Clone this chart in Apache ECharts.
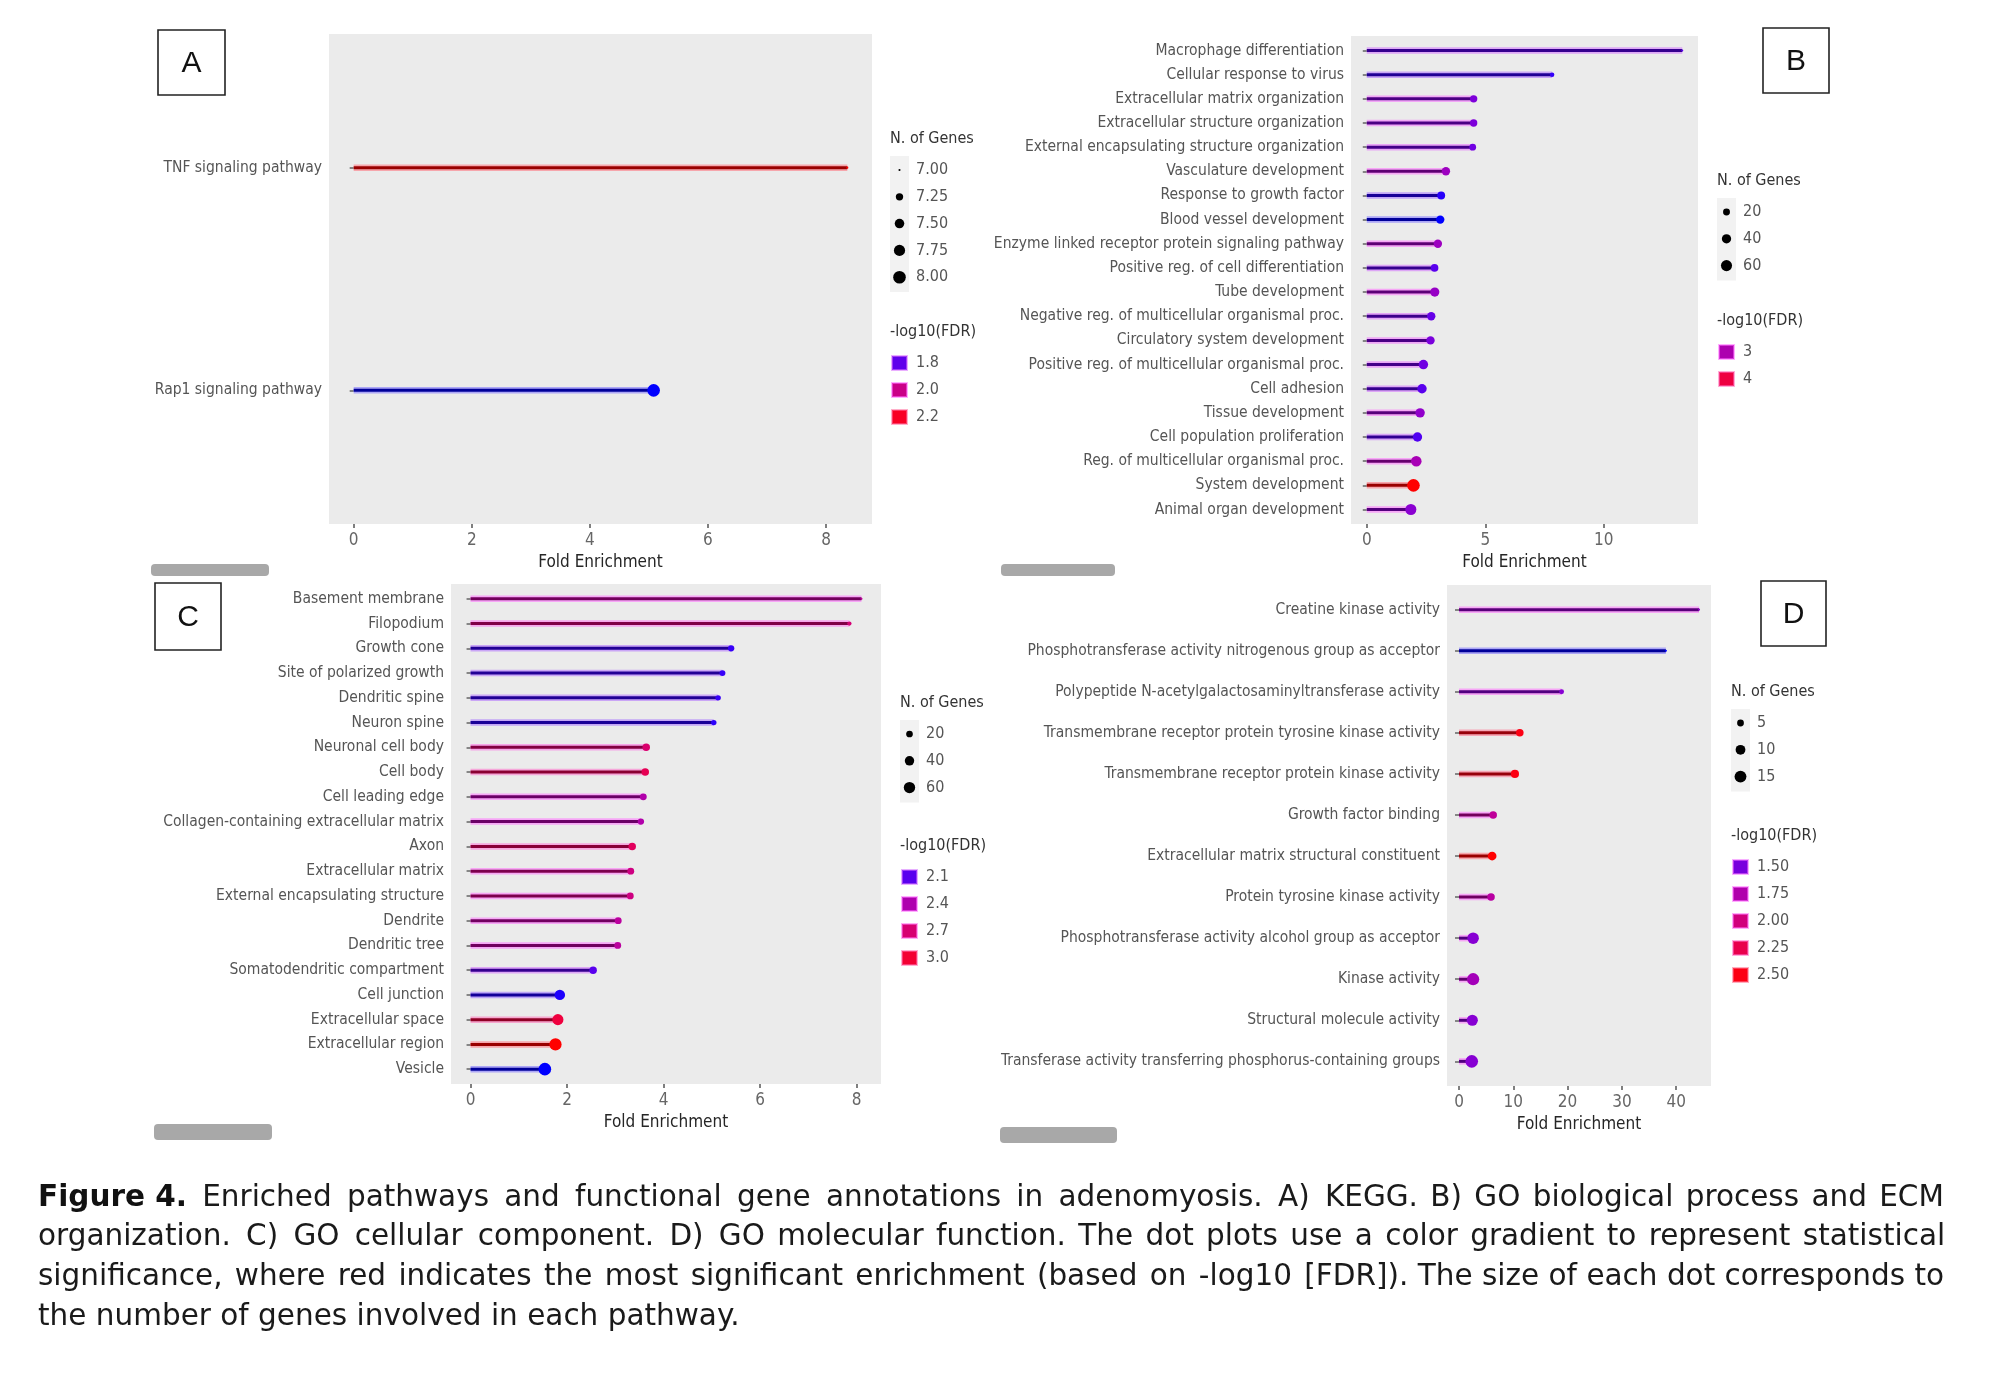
<!DOCTYPE html>
<html><head><meta charset="utf-8">
<script src="https://cdn.jsdelivr.net/npm/echarts@6/dist/echarts.min.js"></script>
<style>html,body{margin:0;padding:0;background:#fff}#c{width:2000px;height:1383px}</style>
</head><body><div id="c"></div>
<script>
// ---------- DATA ----------
// Panel A (KEGG)
const catsA = ['TNF signaling pathway', 'Rap1 signaling pathway'];
const foldA = [8.36, 5.08];
const fdrA = [2.24, 1.76];
const genesA = [7, 8];
const xTicksA = [0, 2, 4, 6, 8];
const sizeLegendA = ['7.00', '7.25', '7.50', '7.75', '8.00'];
const colorLegendA = ['1.8', '2.0', '2.2'];

// Panel B (GO biological process)
const catsB = ['Macrophage differentiation', 'Cellular response to virus', 'Extracellular matrix organization',
  'Extracellular structure organization', 'External encapsulating structure organization', 'Vasculature development',
  'Response to growth factor', 'Blood vessel development', 'Enzyme linked receptor protein signaling pathway',
  'Positive reg. of cell differentiation', 'Tube development', 'Negative reg. of multicellular organismal proc.',
  'Circulatory system development', 'Positive reg. of multicellular organismal proc.', 'Cell adhesion',
  'Tissue development', 'Cell population proliferation', 'Reg. of multicellular organismal proc.',
  'System development', 'Animal organ development'];
const foldB = [13.31, 7.82, 4.51, 4.51, 4.47, 3.34, 3.14, 3.10, 3.00, 2.86, 2.87, 2.72, 2.69, 2.39, 2.33, 2.25, 2.14, 2.09, 1.97, 1.86];
const fdrB = [2.45, 2.35, 2.62, 2.62, 2.55, 2.85, 2.33, 2.3, 2.85, 2.45, 2.8, 2.5, 2.6, 2.55, 2.45, 2.75, 2.42, 2.95, 4.4, 2.7];
const genesB = [4, 8, 23, 23, 19, 31, 27, 31, 31, 25, 38, 31, 31, 41, 41, 41, 40, 53, 80, 59];
const xTicksB = [0, 5, 10];
const sizeLegendB = ['20', '40', '60'];
const colorLegendB = ['3', '4'];

// Panel C (GO cellular component)
const catsC = ['Basement membrane', 'Filopodium', 'Growth cone', 'Site of polarized growth', 'Dendritic spine',
  'Neuron spine', 'Neuronal cell body', 'Cell body', 'Cell leading edge', 'Collagen-containing extracellular matrix',
  'Axon', 'Extracellular matrix', 'External encapsulating structure', 'Dendrite', 'Dendritic tree',
  'Somatodendritic compartment', 'Cell junction', 'Extracellular space', 'Extracellular region', 'Vesicle'];
const foldC = [8.10, 7.85, 5.40, 5.22, 5.13, 5.04, 3.64, 3.62, 3.58, 3.53, 3.35, 3.32, 3.31, 3.06, 3.05, 2.54, 1.85, 1.81, 1.76, 1.54];
const fdrC = [2.5, 2.68, 2.05, 2.05, 2.05, 2.04, 2.72, 2.85, 2.42, 2.42, 2.8, 2.62, 2.62, 2.48, 2.48, 2.1, 2.03, 2.95, 3.15, 2.02];
const genesC = [7, 10, 18, 16, 14, 14, 25, 25, 21, 18, 25, 21, 21, 21, 21, 25, 50, 57, 70, 75];
const xTicksC = [0, 2, 4, 6, 8];
const sizeLegendC = ['20', '40', '60'];
const colorLegendC = ['2.1', '2.4', '2.7', '3.0'];

// Panel D (GO molecular function)
const catsD = ['Creatine kinase activity', 'Phosphotransferase activity nitrogenous group as acceptor',
  'Polypeptide N-acetylgalactosaminyltransferase activity', 'Transmembrane receptor protein tyrosine kinase activity',
  'Transmembrane receptor protein kinase activity', 'Growth factor binding', 'Extracellular matrix structural constituent',
  'Protein tyrosine kinase activity', 'Phosphotransferase activity alcohol group as acceptor', 'Kinase activity',
  'Structural molecule activity', 'Transferase activity transferring phosphorus-containing groups'];
const foldD = [44.2, 38.1, 18.9, 11.2, 10.3, 6.3, 6.1, 5.9, 2.6, 2.6, 2.45, 2.35];
const fdrD = [1.6, 1.33, 1.55, 2.5, 2.5, 1.85, 2.54, 1.8, 1.55, 1.68, 1.55, 1.55];
const genesD = [2, 2, 3, 6, 7, 6, 8, 6, 14, 16, 13, 17];
const xTicksD = [0, 10, 20, 30, 40];
const sizeLegendD = ['5', '10', '15'];
const colorLegendD = ['1.50', '1.75', '2.00', '2.25', '2.50'];

const captionLines = [
  'Enriched pathways and functional gene annotations in adenomyosis. A) KEGG. B) GO biological process and ECM',
  'organization. C) GO cellular component. D) GO molecular function. The dot plots use a color gradient to represent statistical',
  'significance, where red indicates the most significant enrichment (based on -log10 [FDR]). The size of each dot corresponds to',
  'the number of genes involved in each pathway.'
];

// ---------- HELPERS ----------
const FONT = "'Liberation Sans Narrow','DejaVu Sans Condensed','Roboto Condensed','Noto Sans',sans-serif";
const BLUE_LAB = [32.30, 79.19, -107.86], RED_LAB = [53.24, 80.09, 67.20];
function lab2rgb(L, a, b) {
  const fy = (L + 16) / 116, fx = fy + a / 500, fz = fy - b / 200;
  const f = t => (t * t * t > 0.008856 ? t * t * t : (t - 16 / 116) / 7.787);
  const X = 0.95047 * f(fx), Y = f(fy), Z = 1.08883 * f(fz);
  const r = 3.2406 * X - 1.5372 * Y - 0.4986 * Z;
  const g = -0.9689 * X + 1.8758 * Y + 0.0415 * Z;
  const bb = 0.0557 * X - 0.2040 * Y + 1.0570 * Z;
  const gam = c => { c = Math.max(0, Math.min(1, c)); return c <= 0.0031308 ? 12.92 * c : 1.055 * Math.pow(c, 1 / 2.4) - 0.055; };
  return [r, g, bb].map(v => Math.round(gam(v) * 255));
}
const toHex = c => '#' + c.map(v => v.toString(16).padStart(2, '0')).join('');
function makeRGB(vals) {
  const mn = Math.min(...vals), mx = Math.max(...vals);
  return v => {
    const t = Math.max(0, Math.min(1, (v - mn) / (mx - mn)));
    return lab2rgb(BLUE_LAB[0] + t * (RED_LAB[0] - BLUE_LAB[0]), BLUE_LAB[1] + t * (RED_LAB[1] - BLUE_LAB[1]), BLUE_LAB[2] + t * (RED_LAB[2] - BLUE_LAB[2]));
  };
}
function makeSize(vals) {
  const mn = Math.min(...vals), mx = Math.max(...vals);
  return g => 2.1 * (1 + 5 * Math.sqrt(Math.max(0, (g - mn) / (mx - mn))));
}
const darken = (c, k) => 'rgb(' + c.map(v => Math.round(v * (1 - k))).join(',') + ')';
const halo = (c) => 'rgba(' + [Math.min(255, c[0] + 120), Math.min(255, c[1] + 110), Math.min(255, c[2] + 120)].join(',') + ',0.55)';

// ---------- LAYOUT ----------
const panels = [
  { letter: 'A', cats: catsA, fold: foldA, fdr: fdrA, genes: genesA, xTicks: xTicksA, sizeLeg: sizeLegendA, colorLeg: colorLegendA,
    grid: { left: 329, top: 34, width: 543, height: 490 }, box: [158, 30, 67, 65], leg: [890, 139, 332], bar: [151, 564, 118, 12] },
  { letter: 'B', cats: catsB, fold: foldB, fdr: fdrB, genes: genesB, xTicks: xTicksB, sizeLeg: sizeLegendB, colorLeg: colorLegendB,
    grid: { left: 1351, top: 36, width: 347, height: 488 }, box: [1763, 28, 66, 65], leg: [1717, 181, 321], bar: [1001, 564, 114, 12] },
  { letter: 'C', cats: catsC, fold: foldC, fdr: fdrC, genes: genesC, xTicks: xTicksC, sizeLeg: sizeLegendC, colorLeg: colorLegendC,
    grid: { left: 451, top: 584, width: 430, height: 500 }, box: [155, 583, 66, 67], leg: [900, 703, 846], bar: [154, 1124, 118, 16] },
  { letter: 'D', cats: catsD, fold: foldD, fdr: fdrD, genes: genesD, xTicks: xTicksD, sizeLeg: sizeLegendD, colorLeg: colorLegendD,
    grid: { left: 1447, top: 585, width: 264, height: 501 }, box: [1761, 581, 65, 65], leg: [1731, 692, 836], bar: [1000, 1127, 117, 16] }
];

const option = { animation: false, backgroundColor: '#fff', grid: [], xAxis: [], yAxis: [], series: [], graphic: [] };

panels.forEach((p, k) => {
  const n = p.cats.length;
  const rgb = makeRGB(p.fdr);
  const col = v => toHex(rgb(v));
  const sz = makeSize(p.genes);
  const fmax = Math.max(...p.fold);
  option.grid.push(Object.assign({ show: true, backgroundColor: '#ebebeb', borderWidth: 0, containLabel: false }, p.grid));
  option.xAxis.push({
    type: 'value', gridIndex: k, min: -0.05 * fmax, max: 1.05 * fmax,
    name: 'Fold Enrichment', nameLocation: 'middle', nameGap: 30,
    nameTextStyle: { fontFamily: FONT, fontSize: 17, color: '#262626' },
    axisLine: { show: false }, splitLine: { show: false },
    axisTick: { show: true, length: 4, customValues: p.xTicks, lineStyle: { color: '#555', width: 1.5 } },
    axisLabel: { customValues: p.xTicks, fontFamily: FONT, fontSize: 17, color: '#666', margin: 8 }
  });
  const idx = p.cats.map((_, i) => i + 1);
  option.yAxis.push({
    type: 'value', gridIndex: k, min: 0.4, max: n + 0.6, inverse: true,
    axisLine: { show: false }, splitLine: { show: false },
    axisTick: { show: true, length: 4, customValues: idx, lineStyle: { color: '#666', width: 1.5 } },
    axisLabel: { customValues: idx, formatter: v => p.cats[Math.round(v) - 1] || '', fontFamily: FONT, fontSize: 15.5, color: '#555', margin: 7 }
  });
  const data = p.cats.map((c, i) => [p.fold[i], i + 1, p.fdr[i], p.genes[i], c]);
  option.series.push({
    type: 'custom', xAxisIndex: k, yAxisIndex: k, data: data, z: 2,
    renderItem: (params, api) => {
      const y = api.value(1);
      const a = api.coord([0, y]), b = api.coord([api.value(0), y]);
      const c = rgb(api.value(2));
      return { type: 'group', children: [
        { type: 'line', shape: { x1: a[0], y1: a[1], x2: b[0], y2: b[1] }, style: { stroke: halo(c), lineWidth: 6.5 } },
        { type: 'line', shape: { x1: a[0], y1: a[1], x2: b[0], y2: b[1] }, style: { stroke: darken(c, 0.4), lineWidth: 3 } }
      ] };
    }
  });
  option.series.push({
    type: 'scatter', xAxisIndex: k, yAxisIndex: k, data: data, z: 3,
    symbol: 'circle', symbolSize: v => sz(v[3]),
    itemStyle: { color: prm => col(prm.value[2]), opacity: 1 }
  });

  // panel letter box
  const [bx, by, bw, bh] = p.box;
  option.graphic.push({ type: 'rect', shape: { x: bx, y: by, width: bw, height: bh }, style: { fill: '#fff', stroke: '#222', lineWidth: 1.6 } });
  option.graphic.push({ type: 'text', x: bx + bw / 2, y: by + bh / 2 + 1, style: { text: p.letter, font: "30px 'Liberation Sans', Arial, sans-serif", fill: '#111', textAlign: 'center', textVerticalAlign: 'middle' } });
  // gray bar
  const [gx, gy, gw, gh] = p.bar;
  option.graphic.push({ type: 'rect', shape: { x: gx, y: gy, width: gw, height: gh, r: 4 }, style: { fill: '#a8a8a8' } });
  // legends
  const [lx, ly, cy] = p.leg;
  option.graphic.push({ type: 'text', x: lx, y: ly, style: { text: 'N. of Genes', font: '16px ' + FONT, fill: '#333', textVerticalAlign: 'middle' } });
  const step = 26.8;
  option.graphic.push({ type: 'rect', shape: { x: lx, y: ly + 17, width: 19, height: step * p.sizeLeg.length + 2 }, style: { fill: '#f2f2f2' } });
  p.sizeLeg.forEach((s, i) => {
    const yy = ly + 31 + i * step;
    option.graphic.push({ type: 'circle', shape: { cx: lx + 9.5, cy: yy, r: sz(parseFloat(s)) / 2 }, style: { fill: '#000' } });
    option.graphic.push({ type: 'text', x: lx + 26, y: yy, style: { text: s, font: '16px ' + FONT, fill: '#555', textVerticalAlign: 'middle' } });
  });
  option.graphic.push({ type: 'text', x: lx, y: cy, style: { text: '-log10(FDR)', font: '16px ' + FONT, fill: '#333', textVerticalAlign: 'middle' } });
  p.colorLeg.forEach((s, i) => {
    const yy = cy + 31 + i * 27;
    const c = rgb(parseFloat(s));
    option.graphic.push({ type: 'rect', shape: { x: lx + 2, y: yy - 7, width: 15, height: 14 }, style: { fill: toHex(c), stroke: halo(c), lineWidth: 2 } });
    option.graphic.push({ type: 'text', x: lx + 26, y: yy, style: { text: s, font: '16px ' + FONT, fill: '#555', textVerticalAlign: 'middle' } });
  });
});

// caption (lines 1-3 justified to the right margin by widening the inter-word spaces)
const CAP_SIZE = 29.5;
const CAP_FAMILY = "'DejaVu Sans',sans-serif";
const CAP_LEFT = 38, CAP_RIGHT = 1946;
const mctx = document.createElement('canvas').getContext('2d');
function measure(str, bold) { mctx.font = (bold ? 'bold ' : '') + CAP_SIZE + 'px ' + CAP_FAMILY; return mctx.measureText(str).width; }
captionLines.forEach((t, i) => {
  const yy = 1198 + i * 39.7;
  const lead = i === 0 ? 'Figure 4.' : '';
  let body = (i === 0 ? ' ' : '') + t;
  if (i < captionLines.length - 1) {
    const natural = measure(lead, true) + measure(body, false);
    const gaps = (body.match(/ /g) || []).length;
    const hair = measure('\u200A', false) || 1;
    let extra = Math.max(0, Math.floor((CAP_RIGHT - CAP_LEFT - natural) / hair));
    const per = Math.floor(extra / gaps), rem = extra - per * gaps;
    let g = 0;
    body = body.replace(/ /g, () => { const cnt = per + (g < rem ? 1 : 0); g++; return ' ' + '\u200A'.repeat(cnt); });
  }
  const txt = lead ? '{b|' + lead + '}' + body : body;
  option.graphic.push({ type: 'text', x: CAP_LEFT, y: yy, style: {
    text: txt, font: CAP_SIZE + 'px ' + CAP_FAMILY, fill: '#1a1a1a', textVerticalAlign: 'middle',
    rich: { b: { fontWeight: 'bold', fontSize: CAP_SIZE, fontFamily: CAP_FAMILY, fill: '#111' } }
  } });
});

const chart = echarts.init(document.getElementById('c'), null, { renderer: 'canvas' });
chart.setOption(option);
</script></body></html>
